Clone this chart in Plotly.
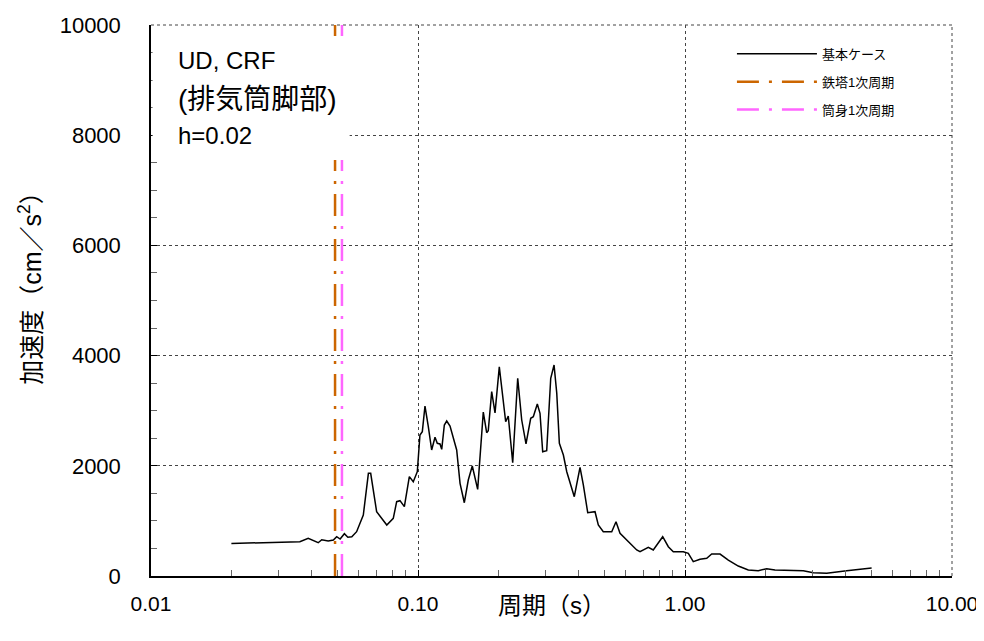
import plotly.graph_objects as go

# ---- data ----
period = [0.0200, 0.0304, 0.0361, 0.0388, 0.0423, 0.0436, 0.0461, 0.0482, 0.0496, 0.0511,
          0.0530, 0.0546, 0.0565, 0.0589, 0.0624, 0.0652, 0.0665, 0.0700, 0.0764, 0.0808,
          0.0832, 0.0856, 0.0889, 0.0928, 0.0960, 0.0994, 0.1017, 0.1038, 0.1062, 0.1093,
          0.1125, 0.1158, 0.1181, 0.1209, 0.1227, 0.1255, 0.1281, 0.1318, 0.1356, 0.1396,
          0.1437, 0.1491, 0.1543, 0.1597, 0.1673, 0.1756, 0.1808, 0.1833, 0.1888, 0.1943,
          0.2016, 0.2058, 0.2130, 0.2178, 0.2263, 0.2363, 0.2446, 0.2538, 0.2643, 0.2703,
          0.2798, 0.2864, 0.2931, 0.3034, 0.3141, 0.3233, 0.3309, 0.3384, 0.3503, 0.3607,
          0.3708, 0.3849, 0.4044, 0.4161, 0.4322, 0.4602, 0.4735, 0.4943, 0.5316, 0.5516,
          0.5710, 0.6049, 0.6594, 0.6785, 0.7288, 0.7607, 0.8251, 0.8660, 0.9041, 0.9855,
          1.029, 1.074, 1.138, 1.206, 1.259, 1.353, 1.453, 1.583, 1.726, 1.881,
          2.023, 2.173, 2.774, 3.024, 3.395, 4.033, 4.523, 5.000]
accel = [590, 604, 622, 684, 604, 659, 635, 653, 713, 671,
         768, 702, 713, 804, 1107, 1863, 1863, 1167, 926, 1047,
         1349, 1367, 1258, 1803, 1712, 1893, 2559, 2619, 3085, 2710,
         2287, 2517, 2408, 2396, 2299, 2740, 2813, 2722, 2499, 2287,
         1682, 1330, 1742, 1996, 1573, 2975, 2601, 2637, 3345, 2960,
         3795, 3436, 2800, 2904, 2056, 3588, 2831, 2396, 2862, 2891,
         3122, 2953, 2256, 2274, 3588, 3829, 3316, 2408, 2196, 1893,
         1682, 1439, 1973, 1652, 1149, 1167, 926, 804, 804, 985,
         775, 653, 472, 441, 521, 472, 713, 532, 441, 441,
         412, 260, 303, 321, 399, 399, 290, 181, 109, 97,
         133, 109, 97, 60, 49, 97, 127, 145]

tower_period = 0.0489   # 鉄塔1次周期
stack_period = 0.0519   # 筒身1次周期
y_span = [0, 10000]

series_names = ["基本ケース", "鉄塔1次周期", "筒身1次周期"]
x_tickvals = [0.01, 0.1, 1, 10]
x_ticktext = ["0.01", "0.10", "1.00", "10.00"]
y_tickvals = [0, 2000, 4000, 6000, 8000, 10000]
y_ticktext = ["0", "2000", "4000", "6000", "8000", "10000"]
label_lines = ["UD, CRF", "(排気筒脚部)", "h=0.02"]
x_title = "周期（s）"
y_title = "加速度（cm／s<sup>2</sup>）"

FONT = "Liberation Sans, Arial, Noto Sans CJK JP, sans-serif"
GRID = "#444"
GRID_DASH = "3px,3px"

fig = go.Figure()
fig.add_trace(go.Scatter(x=period, y=accel, mode="lines", name=series_names[0],
                         line=dict(color="black", width=1.5), legendgroup="a"))
fig.add_trace(go.Scatter(x=[tower_period, tower_period], y=y_span, mode="lines",
                         name=series_names[1], legendgroup="b",
                         line=dict(color="#CC6600", width=2.5, dash="22px,10px,3px,10px")))
fig.add_trace(go.Scatter(x=[stack_period, stack_period], y=y_span, mode="lines",
                         name=series_names[2], legendgroup="c",
                         line=dict(color="#FF66FF", width=2.5, dash="22px,10px,3px,10px")))

# top and right frame drawn like the gridlines
fig.add_shape(type="line", xref="paper", yref="paper", x0=0, x1=1, y0=1, y1=1,
              line=dict(color=GRID, width=1, dash=GRID_DASH), layer="below")
fig.add_shape(type="line", xref="paper", yref="paper", x0=1, x1=1, y0=0, y1=1,
              line=dict(color=GRID, width=1, dash=GRID_DASH), layer="below")

# white box behind the label text
fig.add_shape(type="rect", xref="paper", yref="paper", x0=0.002, x1=0.248, y0=0.755, y1=0.976,
              fillcolor="white", line=dict(width=0), layer="above")
for txt, yy, fs in zip(label_lines, [0.935, 0.864, 0.800], [24, 28, 24]):
    fig.add_annotation(text=txt, xref="paper", yref="paper", x=0.031, y=yy,
                       xanchor="left", yanchor="middle", showarrow=False,
                       font=dict(family=FONT, size=fs, color="black"))

# axis titles
fig.add_annotation(text=x_title, xref="paper", yref="paper", x=0.5, y=-0.053,
                   xanchor="center", yanchor="middle", showarrow=False,
                   font=dict(family=FONT, size=24, color="black"))
fig.add_annotation(text=y_title, xref="paper", yref="paper", x=-0.151, y=0.534,
                   xanchor="center", yanchor="middle", showarrow=False, textangle=-90,
                   font=dict(family=FONT, size=25, color="black"))

# the page body has an 8px margin, so the figure is offset by 8px
fig.update_layout(
    width=976, height=633,
    margin=dict(l=143, r=32, t=17, b=65, autoexpand=False),
    paper_bgcolor="white", plot_bgcolor="white",
    font=dict(family=FONT, color="black"),
    showlegend=True,
    legend=dict(x=0.935, y=0.975, xanchor="right", yanchor="top",
                font=dict(family=FONT, size=13, color="black"),
                bgcolor="rgba(0,0,0,0)", tracegroupgap=8, itemwidth=80),
)
fig.update_xaxes(type="log", range=[-2, 1], tickvals=x_tickvals, ticktext=x_ticktext,
                 automargin=False,
                 ticks="inside", ticklen=6, tickcolor="black",
                 showline=True, linecolor="black", linewidth=1.5,
                 showgrid=True, gridcolor=GRID, gridwidth=1, griddash=GRID_DASH,
                 zeroline=False, tickfont=dict(family=FONT, size=21),
                 ticklabelstandoff=8,
                 minor=dict(dtick="D1", ticks="inside", ticklen=6, tickcolor="#666", showgrid=False))
fig.update_yaxes(range=[0, 10000], tickvals=y_tickvals, ticktext=y_ticktext,
                 automargin=False,
                 ticks="inside", ticklen=6, tickcolor="black",
                 showline=True, linecolor="black", linewidth=1.5,
                 showgrid=True, gridcolor=GRID, gridwidth=1, griddash=GRID_DASH,
                 zeroline=False, tickfont=dict(family=FONT, size=22),
                 ticklabelstandoff=24,
                 minor=dict(dtick=500, ticks="inside", ticklen=6, tickcolor="#666", showgrid=False))

fig.write_html("out.html")
